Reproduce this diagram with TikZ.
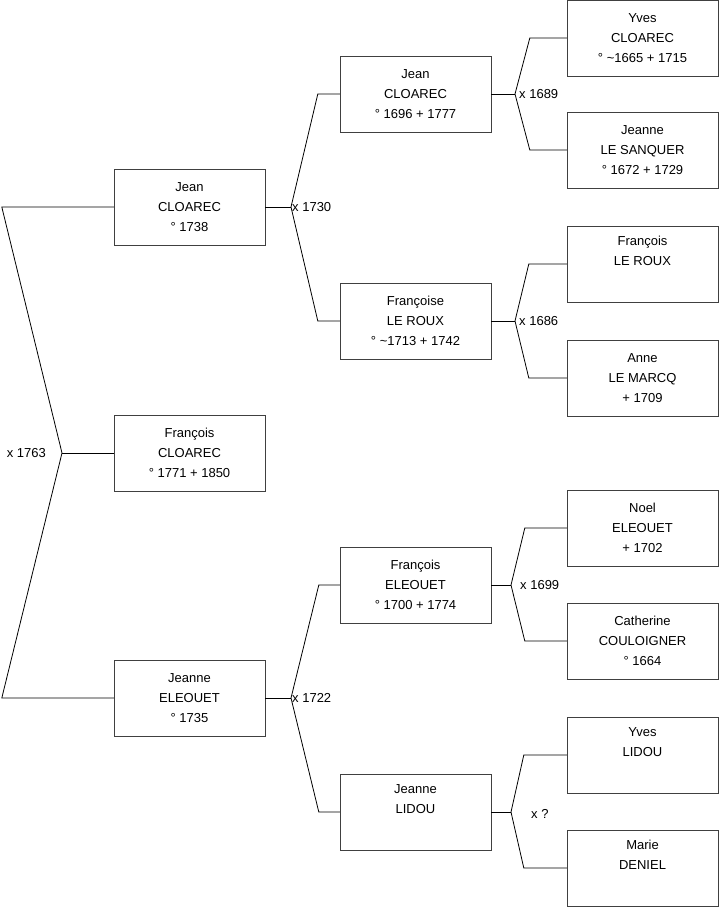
\documentclass[tikz,border=0pt]{standalone}
\usepackage{fontspec}
\setmainfont{Liberation Sans}
\usepackage{tikz}
\usetikzlibrary{positioning,calc}

\begin{document}
\begin{tikzpicture}[
  x=1pt, y=-1pt,
  person/.style={draw=black!75, fill=white, minimum width=151pt, minimum height=76pt, inner sep=0pt, align=center, font=\fontsize{13}{20}\selectfont},
  link/.style={draw=black, line width=0.8pt},
  wed/.style={font=\fontsize{13}{16}\selectfont, inner sep=1pt}
]
  \useasboundingbox (0,0) rectangle (719,908);

  % generation 1
  \node[person] (fc) at (189.5,453) {François\\CLOAREC\\° 1771 + 1850};

  % generation 2
  \node[person] (jc1) at (189.5,207) {Jean\\CLOAREC\\° 1738};
  \node[person] (je1) at (189.5,698) {Jeanne\\ELEOUET\\° 1735};

  % generation 3
  \node[person] (jc2) at (415.5,94)  {Jean\\CLOAREC\\° 1696 + 1777};
  \node[person] (flr) at (415.5,321) {Françoise\\LE ROUX\\° \textasciitilde1713 + 1742};
  \node[person] (fe2) at (415.5,585) {François\\ELEOUET\\° 1700 + 1774};
  \node[person] (jl2) at (415.5,812) {Jeanne\\LIDOU\\\strut};

  % generation 4
  \node[person] (yc3) at (642.5,38)  {Yves\\CLOAREC\\° \textasciitilde1665 + 1715};
  \node[person] (jls) at (642.5,150) {Jeanne\\LE SANQUER\\° 1672 + 1729};
  \node[person] (flx) at (642.5,264) {François\\LE ROUX\\\strut};
  \node[person] (alm) at (642.5,378) {Anne\\LE MARCQ\\ + 1709};
  \node[person] (ne3) at (642.5,528) {Noel\\ELEOUET\\ + 1702};
  \node[person] (cc3) at (642.5,641) {Catherine\\COULOIGNER\\° 1664};
  \node[person] (yl3) at (642.5,755) {Yves\\LIDOU\\\strut};
  \node[person] (md3) at (642.5,868) {Marie\\DENIEL\\\strut};

  % marriage forks
  \coordinate (m1763) at (62,453);
  \coordinate (m1730) at (291,207);
  \coordinate (m1722) at (291,698);
  \coordinate (m1689) at (515,94);
  \coordinate (m1686) at (515,321);
  \coordinate (m1699) at (511,585);
  \coordinate (mlid)  at (511,812);

  \draw[link] (fc.west) -- (m1763);
  \draw[link] (m1763) -- ([xshift=-112pt]jc1.west) -- (jc1.west);
  \draw[link] (m1763) -- ([xshift=-112pt]je1.west) -- (je1.west);
  \node[wed, anchor=east] at ([xshift=-15pt]m1763) {x 1763};

  \draw[link] (jc1.east) -- (m1730);
  \draw[link] (m1730) -- ([xshift=-22pt]jc2.west) -- (jc2.west);
  \draw[link] (m1730) -- ([xshift=-22pt]flr.west) -- (flr.west);
  \node[wed, anchor=west] at (m1730) {x 1730};

  \draw[link] (je1.east) -- (m1722);
  \draw[link] (m1722) -- ([xshift=-21pt]fe2.west) -- (fe2.west);
  \draw[link] (m1722) -- ([xshift=-21pt]jl2.west) -- (jl2.west);
  \node[wed, anchor=west] at (m1722) {x 1722};

  \draw[link] (jc2.east) -- (m1689);
  \draw[link] (m1689) -- ([xshift=-37pt]yc3.west) -- (yc3.west);
  \draw[link] (m1689) -- ([xshift=-37pt]jls.west) -- (jls.west);
  \node[wed, anchor=west] at ([xshift=3pt]m1689) {x 1689};

  \draw[link] (flr.east) -- (m1686);
  \draw[link] (m1686) -- ([xshift=-38pt]flx.west) -- (flx.west);
  \draw[link] (m1686) -- ([xshift=-38pt]alm.west) -- (alm.west);
  \node[wed, anchor=west] at ([xshift=3pt]m1686) {x 1686};

  \draw[link] (fe2.east) -- (m1699);
  \draw[link] (m1699) -- ([xshift=-42pt]ne3.west) -- (ne3.west);
  \draw[link] (m1699) -- ([xshift=-42pt]cc3.west) -- (cc3.west);
  \node[wed, anchor=west] at ([xshift=8pt]m1699) {x 1699};

  \draw[link] (jl2.east) -- (mlid);
  \draw[link] (mlid) -- ([xshift=-43pt]yl3.west) -- (yl3.west);
  \draw[link] (mlid) -- ([xshift=-43pt]md3.west) -- (md3.west);
  \node[wed, anchor=west] at ([xshift=19pt,yshift=-2pt]mlid) {x ?};
\end{tikzpicture}
\end{document}
